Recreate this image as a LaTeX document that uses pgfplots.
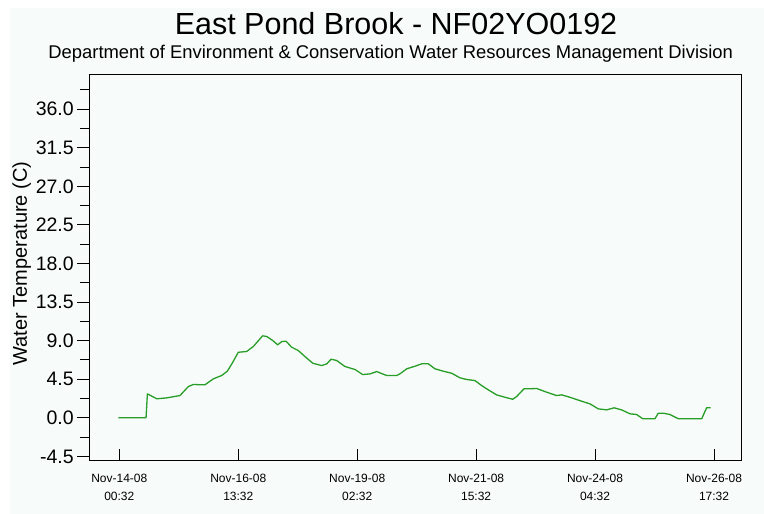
\documentclass[border=0pt]{standalone}
\usepackage{pgfplots}
\pgfplotsset{compat=1.18}
\usepackage{fontspec}
\setmainfont{Liberation Sans}
\definecolor{bgc}{RGB}{247,251,249}
\definecolor{linec}{RGB}{40,158,40}
\pgfplotstableread{
h v
-0.5 0
13.7 0
14.4 2.80
19.2 2.22
24.3 2.33
31.1 2.60
35.4 3.65
37.9 3.89
43.9 3.85
48.2 4.55
52.5 4.94
55.4 5.44
58.2 6.49
61.0 7.65
65.3 7.74
68.7 8.32
73.5 9.57
75.6 9.49
78.7 9.02
81.2 8.52
83.3 8.90
85.5 8.94
88.4 8.24
91.8 7.85
95.2 7.15
99.2 6.37
103.8 6.10
106.4 6.30
108.6 6.84
111.5 6.69
115.7 5.99
120.9 5.64
124.8 5.05
128.6 5.13
132.0 5.40
137.1 4.94
142.3 4.94
143.9 5.13
147.4 5.72
151.6 6.02
155.1 6.30
158.5 6.30
161.9 5.72
166.2 5.44
170.5 5.20
174.7 4.67
178.2 4.47
182.4 4.35
185.8 3.77
189.2 3.27
193.5 2.68
197.8 2.40
201.7 2.17
203.8 2.49
207.5 3.38
214.1 3.42
219.2 2.99
224.3 2.60
226.9 2.68
231.1 2.40
237.1 1.94
241.4 1.63
245.6 1.05
249.9 0.93
253.8 1.17
257.6 0.93
261.9 0.47
265.3 0.39
268.4 -0.1
274.7 -0.1
276.4 0.54
279.0 0.54
282.4 0.39
286.7 -0.1
298.7 -0.1
301.2 1.17
303.3 1.17
}\temps
\begin{document}
\begin{tikzpicture}[x=1pt,y=1pt]
\fill[white] (0,0) rectangle (764,514);
\fill[bgc] (10,0) rectangle (764,506);
\node[anchor=base,font=\fontsize{30.5}{36}\selectfont] at (396,479.7) {East Pond Brook - NF02YO0192};
\node[anchor=base,font=\fontsize{18.4}{22}\selectfont] at (390.7,455.7) {Department of Environment \& Conservation Water Resources Management Division};
\begin{axis}[
  at={(89.3pt,53.3pt)}, anchor=south west,
  scale only axis, width=652.4pt, height=385.7pt,
  xmin=-15.4, xmax=319.2, ymin=-5, ymax=40,
  axis background/.style={fill=bgc},
  axis line style={black, line width=1pt},
  xtick={0,61,122,183,244,305},
  xticklabels={{Nov-14-08\\00:32},{Nov-16-08\\13:32},{Nov-19-08\\02:32},{Nov-21-08\\15:32},{Nov-24-08\\04:32},{Nov-26-08\\17:32}},
  xticklabel style={align=center, font=\fontsize{12}{17.6}\selectfont, yshift=-10pt},
  ytick={-4.5,0,4.5,9,13.5,18,22.5,27,31.5,36},
  yticklabels={-4.5,0.0,4.5,9.0,13.5,18.0,22.5,27.0,31.5,36.0},
  minor ytick={-2.25,2.25,6.75,11.25,15.75,20.25,24.75,29.25,33.75,38.25},
  yticklabel style={font=\fontsize{19.5}{22}\selectfont},
  xtick pos=bottom, ytick pos=left,
  xtick align=inside, ytick align=outside,
  major tick length=12pt, minor tick length=9pt,
  tick style={black, line width=1pt},
  ylabel={Water Temperature (C)},
  every axis y label/.style={at={(rel axis cs:0,0.5)}, xshift=-67.6pt, yshift=4.4pt, rotate=90, anchor=center, font=\fontsize{20}{24}\selectfont},
]
\addplot[linec, line width=1.3pt, line join=round] table[x=h,y=v] {\temps};
\end{axis}
\end{tikzpicture}
\end{document}
